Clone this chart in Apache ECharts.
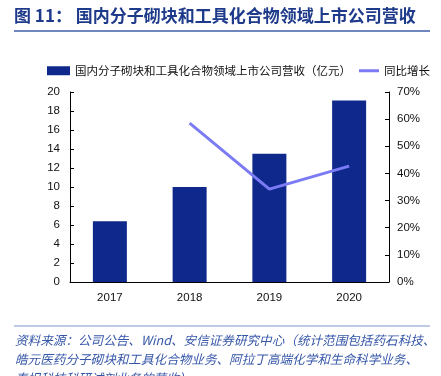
<!DOCTYPE html>
<html>
<head>
<meta charset="utf-8">
<script src="https://cdn.jsdelivr.net/npm/echarts@6/dist/echarts.min.js"></script>
<style>
  html, body { margin: 0; padding: 0; background: #fff; }
  #main { width: 441px; height: 376px; }
</style>
</head>
<body>
<div id="main"></div>
<script>
// 数据
var years = ['2017', '2018', '2019', '2020'];
var revenue = [6.4, 10.0, 13.5, 19.1];
var growth = [null, 58.5, 34.2, 42.7];
var barName = '国内分子砌块和工具化合物领域上市公司营收（亿元）';
var lineName = '同比增长';

var myChart = echarts.init(document.getElementById('main'));
var font = '"Noto Sans CJK SC", "Liberation Sans", sans-serif';
var numFont = '"Liberation Sans", sans-serif';
var options = {
    animation: false,
    textStyle: { fontFamily: font },
    graphic: [
        {
            type: 'text', left: 14, top: 7,
            style: {
                text: '图 11： 国内分子砌块和工具化合物领域上市公司营收',
                fill: '#1E3A8A', font: 'bold 17px ' + font
            }
        },
        {
            type: 'line', shape: { x1: 14, y1: 31, x2: 430, y2: 31 },
            style: { stroke: '#3F5FA8', lineWidth: 1.5 }
        },
        {
            type: 'line', shape: { x1: 14, y1: 326, x2: 430, y2: 326 },
            style: { stroke: '#7F95C8', lineWidth: 1 }
        },
        {
            type: 'text', left: 15, top: 331,
            style: {
                text: '资料来源：公司公告、Wind、安信证券研究中心（统计范围包括药石科技、\n皓元医药分子砌块和工具化合物业务、阿拉丁高端化学和生命科学业务、\n泰坦科技科研试剂业务的营收）',
                fill: '#3556A8', font: 'italic 12.6px ' + font, lineHeight: 19
            }
        }
    ],
    legend: [
        {
            left: 42, top: 60,
            textStyle: { fontSize: 11.5, color: '#111', fontFamily: font },
            data: [{ name: barName, icon: 'rect' }],
            itemWidth: 23, itemHeight: 9, itemGap: 4
        },
        {
            left: 354, top: 60,
            textStyle: { fontSize: 11.5, color: '#111', fontFamily: font },
            data: [{ name: lineName, icon: 'rect' }],
            itemWidth: 20, itemHeight: 3
        }
    ],
    grid: { left: 70, right: 52, top: 92, bottom: 94 },
    xAxis: {
        type: 'category',
        data: years,
        axisLine: { lineStyle: { color: '#000', width: 1 } },
        axisTick: { inside: true, length: 4, lineStyle: { color: '#000' } },
        axisLabel: { color: '#111', fontSize: 11.5, margin: 10, fontFamily: numFont }
    },
    yAxis: [
        {
            type: 'value', min: 0, max: 20, interval: 2,
            splitLine: { show: false },
            axisLine: { show: true, lineStyle: { color: '#000' } },
            axisTick: { show: true, inside: true, length: 4, lineStyle: { color: '#000' } },
            axisLabel: { color: '#111', fontSize: 11.5, margin: 10, fontFamily: numFont }
        },
        {
            type: 'value', min: 0, max: 70, interval: 10,
            splitLine: { show: false },
            axisLine: { show: true, lineStyle: { color: '#000' } },
            axisTick: { show: true, inside: true, length: 4, lineStyle: { color: '#000' } },
            axisLabel: { color: '#111', fontSize: 11.5, margin: 8, formatter: '{value}%', fontFamily: numFont }
        }
    ],
    series: [
        {
            name: barName,
            type: 'bar',
            barWidth: 34,
            itemStyle: { color: '#0E288C' },
            data: revenue
        },
        {
            name: lineName,
            type: 'line',
            yAxisIndex: 1,
            symbol: 'none',
            lineStyle: { color: '#7B7BF5', width: 3 },
            itemStyle: { color: '#7B7BF5' },
            data: growth
        }
    ]
};
myChart.setOption(options, true);
</script>
</body>
</html>
